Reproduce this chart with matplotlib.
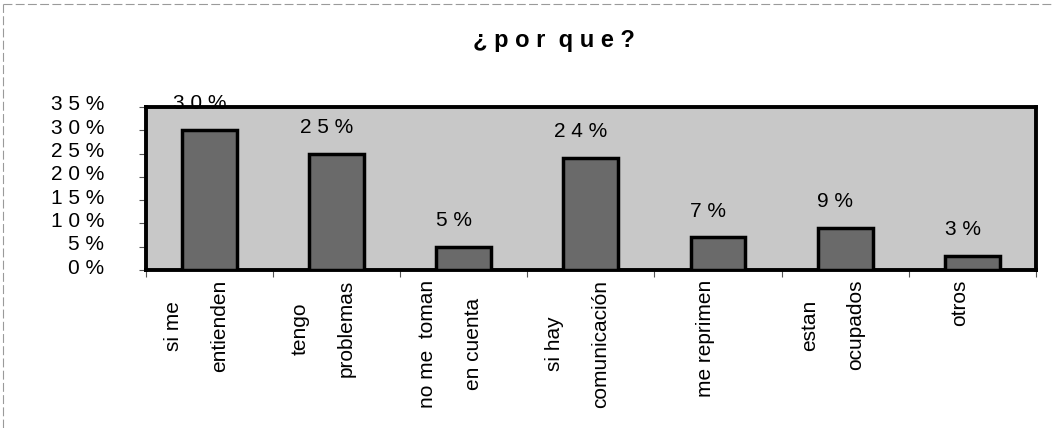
import matplotlib
matplotlib.use("Agg")
import matplotlib.pyplot as plt
import matplotlib.transforms as mtransforms
import numpy as np

plt.rcParams['font.family'] = ['Liberation Sans', 'DejaVu Sans']

# datos
categorias = ["si me\nentienden", "tengo\nproblemas", "no me  toman\nen cuenta",
              "si hay\ncomunicación", "me reprimen", "estan\nocupados", "otros"]
porcentajes = [30, 25, 5, 24, 7, 9, 3]
yticks = [0, 5, 10, 15, 20, 25, 30, 35]


def espaciado(v):
    # el grafico original muestra los numeros con letras separadas: "3 0 %"
    return " ".join(str(v)) + " %"


fig = plt.figure(figsize=(10.56, 4.28), dpi=100)
ax = fig.add_axes([0.138, 0.369, 0.843, 0.381])
ax.set_facecolor("#c8c8c8")

x = np.arange(len(categorias))
bars = ax.bar(x, porcentajes, width=0.43, color="#6a6a6a",
              edgecolor="black", linewidth=2.5, zorder=3)

for b, v in zip(bars, porcentajes):
    ax.annotate(espaciado(v), (b.get_x() + b.get_width() / 2, b.get_height()),
                xytext=(-7, 19), textcoords="offset points",
                ha="center", va="center", fontsize=15, zorder=4)

ax.set_xlim(-0.5, len(categorias) - 0.5)
ax.set_ylim(0, 35)

ax.set_yticks(yticks)
ax.set_yticklabels([espaciado(v) for v in yticks], fontsize=15)
ax.tick_params(axis="y", length=5, width=0.8, pad=25, color="#555555")
up = mtransforms.ScaledTranslation(0, 4 / 100, fig.dpi_scale_trans)
for lab in ax.get_yticklabels():
    lab.set_transform(lab.get_transform() + up)

ax.set_xticks(x)
ax.set_xticklabels(categorias, rotation=90, fontsize=15, va="top",
                   ha="center", multialignment="center", linespacing=2.8)
ax.tick_params(axis="x", which="major", length=0, pad=7)
ax.set_xticks(np.arange(len(categorias) + 1) - 0.5, minor=True)
ax.tick_params(axis="x", which="minor", length=5, width=0.8, color="#555555")

shift = mtransforms.ScaledTranslation(-13 / 100, 0, fig.dpi_scale_trans)
for lab in ax.get_xticklabels():
    lab.set_transform(lab.get_transform() + shift)

for s in ax.spines.values():
    s.set_linewidth(2.8)
    s.set_color("black")

fig.text(0.525, 0.905, "¿ p o r  q u e ?", ha="center", va="center",
         fontsize=17, fontweight="bold")

# borde punteado del area del grafico
fig.add_artist(plt.Line2D([0.003, 0.997], [0.99, 0.99], transform=fig.transFigure,
                          color="#9a9a9a", linewidth=0.8, linestyle=(0, (8, 3))))
fig.add_artist(plt.Line2D([0.003, 0.003], [0.0, 0.99], transform=fig.transFigure,
                          color="#9a9a9a", linewidth=0.8, linestyle=(0, (8, 3))))

fig.savefig("out.png", dpi=100)
